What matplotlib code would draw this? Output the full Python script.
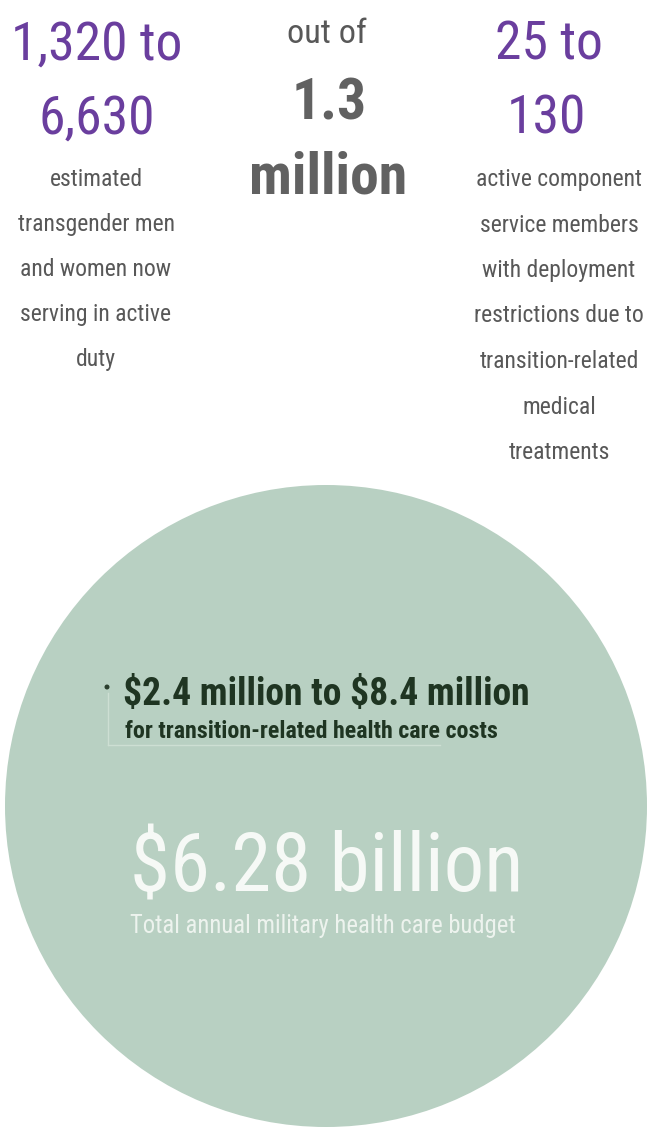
import matplotlib
matplotlib.use('Agg')
import matplotlib.pyplot as plt
from matplotlib import font_manager
from matplotlib.patches import Circle

# text of the infographic
left_stat = ['1,320 to', '6,630']
left_desc = ['estimated', 'transgender men', 'and women now',
             'serving in active', 'duty']
mid_lead = 'out of'
mid_stat = ['1.3', 'million']
right_stat = ['25 to', '130']
right_desc = ['active component', 'service members', 'with deployment',
              'restrictions due to', 'transition-related', 'medical',
              'treatments']
cost_value = '$2.4 million to $8.4 million'
cost_label = 'for transition-related health care costs'
budget_value = '$6.28 billion'
budget_label = 'Total annual military health care budget'

# narrowest family that is around
names = {f.name for f in font_manager.fontManager.ttflist}
for fam in ['Roboto Condensed', 'Open Sans Condensed', 'Liberation Sans Narrow',
            'DejaVu Sans Condensed', 'Liberation Sans']:
    if fam in names:
        break
plt.rcParams['font.family'] = [fam, 'DejaVu Sans']
plt.rcParams['text.parse_math'] = False

PURPLE = '#6a3e9e'
GREY = '#585858'
DARKGREY = '#616161'
SAGE = '#b8d0c2'
GREEN = '#1f3522'

fig = plt.figure(figsize=(6.5, 11.3), dpi=100)
ax = fig.add_axes([0, 0, 1, 1])
ax.set_xlim(0, 650)
ax.set_ylim(1130, 0)
ax.axis('off')
renderer = fig.canvas.get_renderer()


def put_lines(xs, ys, lines, size, widths, **kw):
    # draw a block of lines at the reference size, shrink the whole
    # block if the font is wider than the original lettering
    ts = [ax.text(x, y, s, fontsize=size, va='baseline', **kw)
          for x, y, s in zip(xs, ys, lines)]
    k = min(w / t.get_window_extent(renderer).width for t, w in zip(ts, widths))
    if k < 1:
        for t in ts:
            t.set_fontsize(size * k)
    return ts


## purple headline numbers, left and right
put_lines([97, 97, 549, 546], [60, 134, 60, 134], left_stat + right_stat, 52,
          [172, 121, 130, 84], color=PURPLE, ha='center')

## grey descriptions under them (one common size)
desc_x = [96] * len(left_desc) + [559] * len(right_desc)
desc_y = [186 + 45 * i for i in range(len(left_desc))] + \
         [186 + 45.5 * i for i in range(len(right_desc))]
desc_w = [100, 168, 165, 165, 40] + [176, 166, 168, 178, 171, 78, 114]
put_lines(desc_x, desc_y, left_desc + right_desc, 25.5, desc_w,
          color=GREY, ha='center')

## middle column
put_lines([327], [43], [mid_lead], 25, [80], color=GREY, ha='center')
put_lines([329, 328], [120, 193], mid_stat, 48, [76, 158], color=DARKGREY,
          ha='center', fontweight='bold')

## big budget circle
ax.add_patch(Circle((326, 806), 321, facecolor=SAGE, edgecolor='none'))

# tiny dot for the transition costs + its guide lines
ax.add_patch(Circle((107, 687), 2.5, facecolor='#2b3f2e', edgecolor='none'))
ax.plot([108, 108], [693, 745], color='#cddfd3', lw=1)
ax.plot([108, 440], [745, 745], color='#cddfd3', lw=1)

put_lines([123], [705], [cost_value], 29, [408], color=GREEN, ha='left',
          fontweight='bold')
put_lines([125], [738], [cost_label], 18, [372], color=GREEN, ha='left',
          fontweight='bold')

put_lines([327], [892], [budget_value], 64, [394], color='#f6f9f6',
          ha='center')
put_lines([323], [933], [budget_label], 20.5, [385], color='#edf3ee',
          ha='center')

fig.savefig('out.png', dpi=100, facecolor='white')
